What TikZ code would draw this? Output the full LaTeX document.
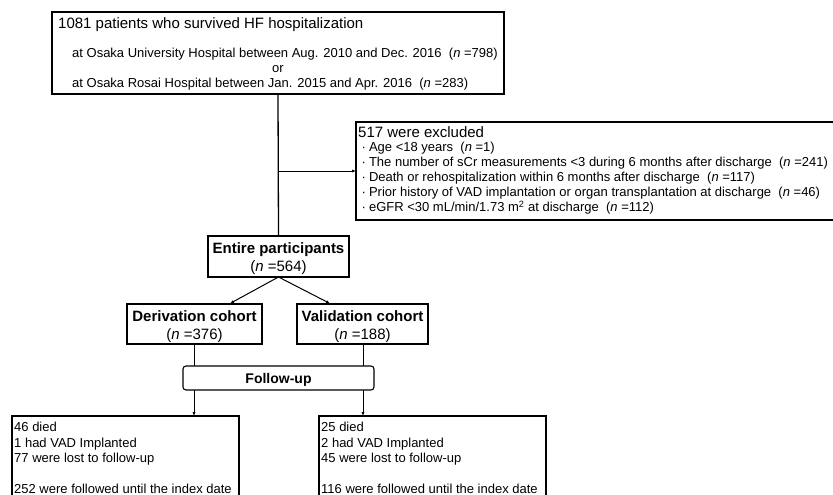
\documentclass[tikz,border=0pt]{standalone}
\usepackage{fontspec}
\setmainfont{Liberation Sans}
\usetikzlibrary{arrows.meta}
\begin{document}
\begin{tikzpicture}[x=1pt,y=-1pt,
  box/.style={draw=black, line width=1.1pt, inner sep=0pt, outer sep=0pt, anchor=north west},
  big/.style={anchor=base west, inner sep=0pt, font=\fontsize{15}{18}\selectfont},
  bigc/.style={anchor=base, inner sep=0pt, font=\fontsize{15}{18}\selectfont},
  bigb/.style={anchor=base, inner sep=0pt, font=\fontsize{15}{18}\selectfont\bfseries},
  sm/.style={anchor=base west, inner sep=0pt, font=\fontsize{13}{15}\selectfont},
  conn/.style={draw=black, line width=1pt},
  arr/.style={conn, -{Latex[length=4pt,width=3.2pt]}}]
\useasboundingbox (0,0) rectangle (833,495);
\clip (0,0) rectangle (833,495);
\fill[white] (0,0) rectangle (833,495);

% top box
\node[box, minimum width=452pt, minimum height=82pt] (top) at (52,12) {};
\node[big] (t1) at (58,29) {1081 patients who survived HF hospitalization};
\node[sm] (t2) at (72,57.5) {at Osaka University Hospital between Aug. 2010 and Dec. 2016~ (\textit{n} =798)};
\node[sm, anchor=base] (t3) at (278,72.5) {or};
\node[sm] (t4) at (72,88) {at Osaka Rosai Hospital between Jan. 2015 and Apr. 2016~ (\textit{n} =283)};

% excluded box
\node[box, minimum width=480pt, minimum height=98pt] (excl) at (356,122) {};
\node[big] (e0) at (358,137) {517 were excluded};
\node[sm] (e1) at (361.5,151.5) {·\hspace{3pt}Age <18 years~ (\textit{n} =1)};
\node[sm] (e2) at (361.5,166.5) {·\hspace{3pt}The number of sCr measurements <3 during 6 months after discharge~ (\textit{n} =241)};
\node[sm] (e3) at (361.5,181.5) {·\hspace{3pt}Death or rehospitalization within 6 months after discharge~ (\textit{n} =117)};
\node[sm] (e4) at (361.5,196.5) {·\hspace{3pt}Prior history of VAD implantation or organ transplantation at discharge~ (\textit{n} =46)};
\node[sm] (e5) at (361.5,211.5) {·\hspace{3pt}eGFR <30 mL/min/1.73 m\textsuperscript{2} at discharge~ (\textit{n} =112)};

% entire participants
\node[box, minimum width=141pt, minimum height=41pt] (entire) at (208,236) {};
\node[bigb] (en1) at (278.5,253) {Entire participants};
\node[bigc] (en2) at (278.5,271) {(\textit{n} =564)};

% cohorts
\node[box, minimum width=135pt, minimum height=40pt] (deriv) at (127,304) {};
\node[bigb] (d1) at (194.5,321) {Derivation cohort};
\node[bigc] (d2) at (194.5,339) {(\textit{n} =376)};
\node[box, minimum width=131pt, minimum height=40pt] (valid) at (297,304) {};
\node[bigb] (v1) at (362.5,321) {Validation cohort};
\node[bigc] (v2) at (362.5,339) {(\textit{n} =188)};

% follow-up
\node[box, rounded corners=3pt, minimum width=191pt, minimum height=24pt] (follow) at (183,366) {};
\node[anchor=base, inner sep=0pt, font=\fontsize{14}{16}\selectfont\bfseries] (f1) at (278.5,383) {Follow-up};

% bottom boxes
\node[box, minimum width=227pt, minimum height=120pt] (lbox) at (12,416) {};
\node[sm] (l1) at (14,431.5) {46 died};
\node[sm] (l2) at (14,447) {1 had VAD Implanted};
\node[sm] (l3) at (14,462.5) {77 were lost to follow-up};
\node[sm] (l4) at (14,493.5) {252 were followed until the index date};
\node[box, minimum width=227pt, minimum height=120pt] (rbox) at (319,416) {};
\node[sm] (r1) at (321,431.5) {25 died};
\node[sm] (r2) at (321,447) {2 had VAD Implanted};
\node[sm] (r3) at (321,462.5) {45 were lost to follow-up};
\node[sm] (r4) at (321,493.5) {116 were followed until the index date};

% connectors
\coordinate (br) at (278,171);
\coordinate (dtip) at (230,303.5);
\coordinate (vtip) at (330,303.5);
\draw[conn, line width=1.3pt] (top.south) -- (entire.north);
\draw[arr] (br) -- (excl.west);
\draw[arr] (entire.south) -- (dtip);
\draw[arr] (entire.south) -- (vtip);
\draw[conn] (194,344) -- (194,366);
\draw[conn] (363,344) -- (363,366);
\draw[arr] (follow.south -| 194,0) -- (lbox.north -| 194,0);
\draw[arr] (follow.south -| 363,0) -- (rbox.north -| 363,0);
\end{tikzpicture}
\end{document}
